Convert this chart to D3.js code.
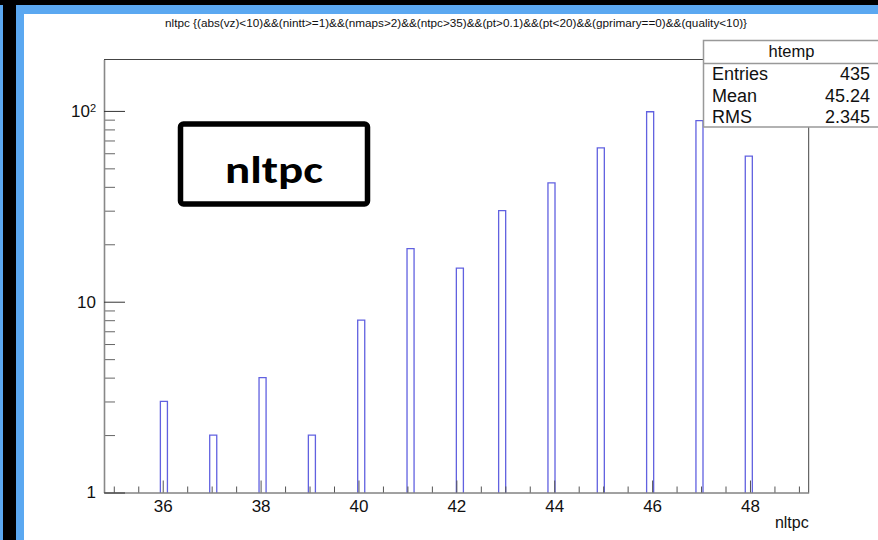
<!DOCTYPE html>
<html>
<head>
<meta charset="utf-8">
<script src="https://cdn.jsdelivr.net/npm/d3@7"></script>
<style>
  body { margin: 0; background: #5ba8f1; }
  svg { display: block; }
  text { font-family: "Liberation Sans", Arial, Helvetica, sans-serif; }
</style>
</head>
<body>
<div class="chart"></div>
<script>
// histogram contents (bin value -> entries)
var binValues = [36, 37, 38, 39, 40, 41, 42, 43, 44, 45, 46, 47, 48];
var counts    = [3, 2, 4, 2, 8, 19, 15, 30, 42, 64, 99, 89, 58];
var xTicks = [36, 38, 40, 42, 44, 46, 48];
var yTicks = [1, 10, 100];
var yTickLabels = ["1", "10", "10^2"];
var statLabels = ["Entries", "Mean", "RMS"];
var statValues = ["435", "45.24", "2.345"];
var title = "nltpc {(abs(vz)<10)&&(nintt>=1)&&(nmaps>2)&&(ntpc>35)&&(pt>0.1)&&(pt<20)&&(gprimary==0)&&(quality<10)}";
var histName = "htemp";
var xTitle = "nltpc";
var boxLabel = "nltpc";

var width = 878;
var height = 540;
var xMin = 34.8, xMax = 49.2, nBins = 100;
var bw = (xMax - xMin) / nBins;
var frame = {left: 104, right: 808.7, top: 59.5, bottom: 492.5};

var svg = d3.select(".chart")
  .append("svg")
  .attr("width", width)
  .attr("height", height);

// borders around the canvas
svg.append("rect").attr("x", 3).attr("y", 0).attr("width", 13).attr("height", height).attr("fill", "#000");
svg.append("rect").attr("x", 0).attr("y", 0).attr("width", width).attr("height", 5).attr("fill", "#000");
svg.append("rect").attr("x", 24).attr("y", 14).attr("width", width - 24).attr("height", height - 14).attr("fill", "#fff");

var x = d3.scaleLinear().domain([xMin, xMax]).range([frame.left, frame.right]);
var y = d3.scaleLog().domain([1, 186]).range([frame.bottom, frame.top]);

// title
svg.append("text")
  .attr("x", 165).attr("y", 27)
  .attr("textLength", 582)
  .attr("lengthAdjust", "spacingAndGlyphs")
  .style("font-size", "10.5px")
  .attr("fill", "#111")
  .text(title);

// frame top/right
svg.append("path")
  .attr("d", "M" + frame.left + "," + frame.top + "H" + frame.right + "V" + frame.bottom)
  .attr("fill", "none")
  .attr("stroke", "#444")
  .attr("stroke-width", 1);

// histogram outlines
var bars = binValues.map(function(v, i) {
  var k = Math.floor((v - xMin) / bw);
  return {x0: xMin + k * bw, x1: xMin + (k + 1) * bw, n: counts[i]};
});

svg.append("g")
  .selectAll("path")
  .data(bars)
  .enter().append("path")
  .attr("d", function(d) {
    return "M" + x(d.x0) + "," + y(1) + "V" + y(d.n) + "H" + x(d.x1) + "V" + y(1);
  })
  .attr("fill", "none")
  .attr("stroke", "#3a3ad8")
  .attr("stroke-opacity", 0.8)
  .attr("stroke-width", 1.3);

// x axis, minor ticks every 0.5
var xMinor = d3.range(35, 49.01, 0.5).filter(function(v) { return v % 2 !== 0; });
svg.append("g")
  .attr("transform", "translate(0," + frame.bottom + ")")
  .call(d3.axisBottom(x).tickValues(xMinor).tickSize(-6).tickFormat(""))
  .call(function(g) { g.select(".domain").remove(); })
  .selectAll("line").attr("stroke", "#555");

var xAxis = svg.append("g")
  .attr("transform", "translate(0," + frame.bottom + ")")
  .call(d3.axisBottom(x).tickValues(xTicks).tickSize(-12).tickSizeOuter(0).tickPadding(7));
xAxis.select(".domain").attr("stroke", "#444");
xAxis.selectAll("line").attr("stroke", "#555");
xAxis.selectAll("text")
  .style("font-size", "17px")
  .style("font-family", "'Liberation Sans', Arial, sans-serif")
  .attr("fill", "#111");

svg.append("text")
  .attr("x", frame.right).attr("y", 528)
  .attr("text-anchor", "end")
  .style("font-size", "16px")
  .attr("fill", "#111")
  .text(xTitle);

// y axis, log scale
var yMinor = [];
[1, 10, 100].forEach(function(dec) {
  for (var m = 2; m <= 9; m++) if (dec * m < 186) yMinor.push(dec * m);
});
svg.append("g")
  .attr("transform", "translate(" + frame.left + ",0)")
  .call(d3.axisLeft(y).tickValues(yMinor).tickSize(-11).tickFormat(""))
  .call(function(g) { g.select(".domain").remove(); })
  .selectAll("line").attr("stroke", "#666");

var yAxis = svg.append("g")
  .attr("transform", "translate(" + frame.left + ",0)")
  .call(d3.axisLeft(y).tickValues(yTicks).tickSize(-21).tickSizeOuter(0).tickPadding(8)
    .tickFormat(function(d, i) { return ""; }));
yAxis.select(".domain").attr("stroke", "#888").attr("stroke-width", 1.6);
yAxis.selectAll("line").attr("stroke", "#333");
yAxis.selectAll(".tick text").each(function(d, i) {
  var t = d3.select(this)
    .style("font-size", "17px")
    .style("font-family", "'Liberation Sans', Arial, sans-serif")
    .attr("fill", "#111");
  var parts = yTickLabels[i].split("^");
  if (parts.length > 1) {
    t.attr("x", -8);
    t.append("tspan").text(parts[0]);
    t.append("tspan").attr("dy", "-0.45em").style("font-size", "11px").text(parts[1]);
  } else {
    t.text(parts[0]);
  }
});

// stats box
var sb = svg.append("g");
sb.append("rect")
  .attr("x", 703.5).attr("y", 40.5)
  .attr("width", 190).attr("height", 86.5)
  .attr("fill", "#fff")
  .attr("stroke", "#999")
  .attr("stroke-width", 1.5);
sb.append("line")
  .attr("x1", 703.5).attr("x2", 878).attr("y1", 63.5).attr("y2", 63.5)
  .attr("stroke", "#999").attr("stroke-width", 1.5);
sb.append("text")
  .attr("x", 791.5).attr("y", 57)
  .attr("text-anchor", "middle")
  .style("font-size", "16.5px")
  .attr("fill", "#111")
  .text(histName);
sb.selectAll(".slab")
  .data(statLabels)
  .enter().append("text")
  .attr("class", "slab")
  .attr("x", 712)
  .attr("y", function(d, i) { return 80 + i * 21.6; })
  .style("font-size", "18px")
  .attr("fill", "#111")
  .text(function(d) { return d; });
sb.selectAll(".sval")
  .data(statValues)
  .enter().append("text")
  .attr("class", "sval")
  .attr("x", 870)
  .attr("y", function(d, i) { return 80 + i * 21.6; })
  .attr("text-anchor", "end")
  .style("font-size", "18px")
  .attr("fill", "#111")
  .text(function(d) { return d; });

// overlay label box
svg.append("rect")
  .attr("x", 180.5).attr("y", 124)
  .attr("width", 187).attr("height", 80)
  .attr("rx", 3)
  .attr("fill", "#fff")
  .attr("stroke", "#000")
  .attr("stroke-width", 5.5);
svg.append("text")
  .attr("x", 225).attr("y", 183)
  .attr("textLength", 98)
  .attr("lengthAdjust", "spacingAndGlyphs")
  .style("font-family", "Carlito, Lato, 'Open Sans', sans-serif")
  .style("font-weight", "bold")
  .style("font-size", "38px")
  .attr("fill", "#000")
  .text(boxLabel);
</script>
</body>
</html>
